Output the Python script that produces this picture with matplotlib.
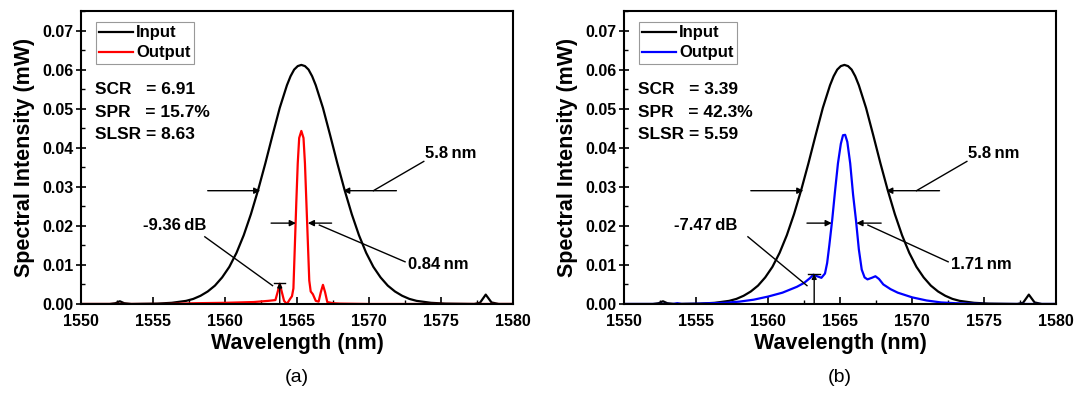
import matplotlib
matplotlib.use('Agg')
import matplotlib.pyplot as plt
from matplotlib.ticker import MultipleLocator, FormatStrFormatter

plt.rcParams['font.family'] = ['Liberation Sans', 'DejaVu Sans']
plt.rcParams['font.weight'] = 'bold'
plt.rcParams['axes.labelweight'] = 'bold'

# input spectrum (same in both panels)
wl_in = [1550.0, 1551.0, 1552.0, 1552.4, 1552.7, 1553.0, 1553.5, 1554.3, 1555.3, 1556.3,
         1557.3, 1557.8, 1558.3, 1558.8, 1559.3, 1559.8, 1560.3, 1560.8, 1561.3, 1561.8,
         1562.3, 1562.8, 1563.3, 1563.8, 1564.3, 1564.55, 1564.8, 1565.05, 1565.3, 1565.55,
         1565.8, 1566.05, 1566.3, 1566.8, 1567.3, 1567.8, 1568.3, 1568.8, 1569.3, 1569.8,
         1570.3, 1570.8, 1571.3, 1571.8, 1572.3, 1572.8, 1573.3, 1574.3, 1575.3, 1576.3,
         1577.3, 1577.7, 1578.1, 1578.5, 1579.0, 1580.0]
p_in = [0.0, 0.0, 0.0, 0.0002, 0.0007, 0.0002, 0.0, 0.00005, 0.0001, 0.0003,
        0.0008, 0.0013, 0.0021, 0.0032, 0.0047, 0.0068, 0.0095, 0.0131, 0.0176, 0.0230,
        0.0292, 0.0360, 0.0432, 0.0502, 0.0560, 0.0583, 0.0600, 0.0609, 0.0612, 0.0609,
        0.0600, 0.0583, 0.0560, 0.0502, 0.0432, 0.0360, 0.0292, 0.0230, 0.0176, 0.0131,
        0.0095, 0.0068, 0.0047, 0.0032, 0.0021, 0.0013, 0.0008, 0.0003, 0.0001, 0.00005,
        0.0, 0.0003, 0.0024, 0.0004, 0.0, 0.0]

# output (a)
wl_a = [1550.0, 1556.0, 1558.0, 1560.0, 1562.0, 1563.0, 1563.5, 1563.65, 1563.8, 1563.95,
        1564.1, 1564.3, 1564.5, 1564.65, 1564.75, 1564.85, 1564.95, 1565.05, 1565.15, 1565.3,
        1565.45, 1565.55, 1565.65, 1565.75, 1565.85, 1565.95, 1566.1, 1566.3, 1566.5, 1566.65,
        1566.8, 1566.95, 1567.1, 1567.5, 1568.0, 1570.0, 1580.0]
p_a = [0.0, 0.0, 0.0002, 0.0003, 0.0005, 0.0008, 0.001, 0.003, 0.0052, 0.003,
       0.0008, 0.0, 0.0012, 0.002, 0.004, 0.015, 0.026, 0.036, 0.0425, 0.0443,
       0.0425, 0.036, 0.026, 0.016, 0.006, 0.0032, 0.0025, 0.0008, 0.0006, 0.003,
       0.0049, 0.003, 0.0005, 0.0002, 0.0001, 0.0, 0.0]

# output (b)
wl_b = [1550.0, 1553.4, 1553.7, 1554.0, 1555.0, 1556.0, 1557.0, 1558.0, 1559.0, 1560.0,
        1561.0, 1562.0, 1562.5, 1562.9, 1563.15, 1563.4, 1563.7, 1563.95, 1564.1, 1564.25,
        1564.45, 1564.65, 1564.85, 1565.05, 1565.2, 1565.35, 1565.5, 1565.7, 1565.9, 1566.1,
        1566.3, 1566.5, 1566.7, 1566.9, 1567.2, 1567.45, 1567.7, 1568.0, 1568.5, 1569.0,
        1570.0, 1571.0, 1572.0, 1573.0, 1574.0, 1575.0, 1580.0]
p_b = [0.0, 0.0, 0.0002, 0.0, 0.00005, 0.0002, 0.0003, 0.0006, 0.0011, 0.0019,
       0.0029, 0.0044, 0.0054, 0.0066, 0.0075, 0.0071, 0.0067, 0.0078, 0.0105, 0.015,
       0.0215, 0.029, 0.036, 0.041, 0.0432, 0.0433, 0.0415, 0.036, 0.028, 0.0215,
       0.014, 0.0088, 0.0068, 0.0063, 0.0067, 0.0071, 0.0064, 0.005, 0.0038, 0.0029,
       0.0017, 0.0009, 0.0004, 0.0002, 0.0001, 0.0, 0.0]

stats_a = ['SCR   = 6.91', 'SPR   = 15.7%', 'SLSR = 8.63']
stats_b = ['SCR   = 3.39', 'SPR   = 42.3%', 'SLSR = 5.59']


def harrow(ax, x0, x1, y):
    ax.annotate('', xy=(x1, y), xytext=(x0, y),
                arrowprops=dict(arrowstyle='-|>', color='k', lw=1.0,
                                mutation_scale=9, shrinkA=0, shrinkB=0))


def line(ax, p0, p1):
    ax.plot([p0[0], p1[0]], [p0[1], p1[1]], color='k', lw=1.0)


def panel(ax, wl, p, color, stats, fwhm, dbtxt, dbx, dbtop, tag):
    ax.plot(wl_in, p_in, color='k', lw=1.6, label='Input')
    ax.plot(wl, p, color=color, lw=1.6, label='Output')
    ax.set_xlim(1550, 1580)
    ax.set_ylim(0, 0.075)
    ax.xaxis.set_major_locator(MultipleLocator(5))
    ax.xaxis.set_minor_locator(MultipleLocator(2.5))
    ax.yaxis.set_major_locator(MultipleLocator(0.01))
    ax.yaxis.set_minor_locator(MultipleLocator(0.005))
    ax.yaxis.set_major_formatter(FormatStrFormatter('%.2f'))
    ax.tick_params(axis='x', which='major', direction='in', length=5, width=1.2, labelsize=11.5, pad=7)
    ax.tick_params(axis='x', which='minor', direction='in', length=3, width=1.0)
    ax.tick_params(axis='y', which='major', direction='inout', length=7, width=1.2, labelsize=11.5, pad=2)
    ax.tick_params(axis='y', which='minor', direction='in', length=3, width=1.0)
    for lab in ax.get_xticklabels() + ax.get_yticklabels():
        lab.set_fontweight('bold')
    for s in ax.spines.values():
        s.set_linewidth(1.5)
    ax.set_xlabel('Wavelength (nm)', fontsize=15.5, labelpad=3, fontweight='bold')
    ax.set_ylabel('Spectral Intensity (mW)', fontsize=15.5, labelpad=5, fontweight='bold')

    leg = ax.legend(loc='upper left', bbox_to_anchor=(0.035, 0.962), fontsize=12,
                    handlelength=2.0, handletextpad=0.2, borderpad=0.2,
                    labelspacing=0.3, borderaxespad=0, fancybox=False, framealpha=1)
    leg.get_frame().set_edgecolor('#999999')
    leg.get_frame().set_linewidth(0.8)

    for i, s in enumerate(stats):
        ax.text(1551.0, 0.0548 - i * 0.0057, s, fontsize=12.5, va='center', ha='left')

    # input FWHM
    harrow(ax, 1558.8, 1562.45, 0.029)
    harrow(ax, 1571.9, 1568.2, 0.029)
    line(ax, (1570.3, 0.029), (1573.8, 0.0365))
    ax.text(1573.9, 0.0385, '5.8\u2009nm', fontsize=12, va='center', ha='left')

    # output FWHM
    harrow(ax, fwhm[0], fwhm[1], 0.0207)
    harrow(ax, fwhm[3], fwhm[2], 0.0207)
    line(ax, (fwhm[2] + 0.8, 0.0202), (1572.5, 0.0108))
    ax.text(1572.7, 0.0102, fwhm[4], fontsize=12, va='center', ha='left')

    # side lobe level
    ax.plot([dbx - 0.4, dbx + 0.4], [dbtop, dbtop], color='k', lw=1.0)
    ax.annotate('', xy=(dbx, dbtop), xytext=(dbx, 0),
                arrowprops=dict(arrowstyle='-|>', color='k', lw=1.0,
                                mutation_scale=7, shrinkA=0, shrinkB=0))
    line(ax, (1558.6, 0.0172), (dbx - 0.5, 0.0047))
    ax.text(dbtxt[0], 0.0202, dbtxt[1], fontsize=12, va='center', ha='left')

    ax.text(0.5, -0.252, tag, transform=ax.transAxes, fontsize=14,
            fontweight='normal', ha='center', va='center')


fig = plt.figure(figsize=(10.75, 3.93), dpi=100)
ax1 = fig.add_axes([0.0753, 0.2265, 0.402, 0.7455])
ax2 = fig.add_axes([0.5805, 0.2265, 0.402, 0.7455])

panel(ax1, wl_a, p_a, 'red', stats_a,
      (1563.2, 1564.92, 1565.75, 1567.4, '0.84\u2009nm'),
      (1554.3, '-9.36\u2009dB'), 1563.8, 0.0055, '(a)')
panel(ax2, wl_b, p_b, 'blue', stats_b,
      (1562.7, 1564.42, 1566.13, 1567.85, '1.71\u2009nm'),
      (1553.5, '-7.47\u2009dB'), 1563.2, 0.0077, '(b)')

fig.savefig('out.png', dpi=100)
